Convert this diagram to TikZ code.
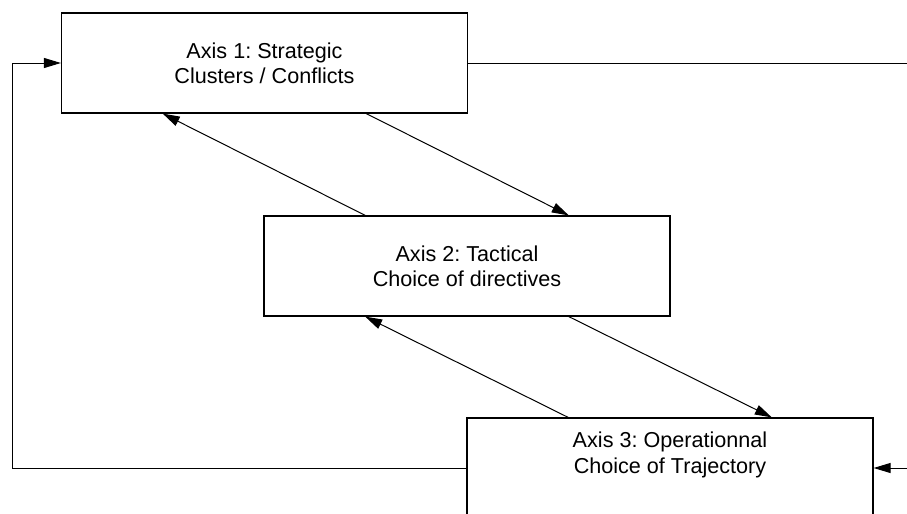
\documentclass[tikz,border=0pt]{standalone}
\usepackage{fontspec}
\setmainfont{Liberation Sans}
\usetikzlibrary{arrows.meta,calc}
\frenchspacing
\begin{document}
\begin{tikzpicture}[x=0.5pt,y=-0.5pt,
  axisbox/.style={draw=black,line width=0.6pt,minimum width=203pt,minimum height=50pt,inner sep=0pt,align=center,
    font=\fontsize{10.8pt}{12.6pt}\selectfont},
  conn/.style={draw=black,line width=0.5pt},
  arr/.style={conn,-{Triangle[length=8.5pt,width=5pt]}}]
\useasboundingbox (0,0) rectangle (907,514);
\begin{scope}
\clip (0,0) rectangle (907,514);
\node[axisbox] (b1) at (264.5,63) {Axis 1: Strategic\\Clusters / Conflicts};
\node[axisbox] (b2) at (467,266) {Axis 2: Tactical\\Choice of directives};
\node[axisbox] (b3) at (670,468) {};
\node[align=center,inner sep=0pt,font=\fontsize{10.8pt}{12.6pt}\selectfont] (t3) at (670,455) {Axis 3: Operationnal\\Choice of Trajectory};
\coordinate (rtop) at (907,63);
\coordinate (rbot) at (907,468);
\coordinate (lbot) at (12,468);
\coordinate (ltop) at (12,63);
\draw[conn] (b1.east) -- (rtop);
\draw[arr] (rbot) -- (b3.east);
\draw[arr] (b3.west) -- (lbot) -- (ltop) -- (b1.west);
\draw[arr] ($(b2.north west)!0.25!(b2.north east)$) -- ($(b1.south west)!0.25!(b1.south east)$);
\draw[arr] ($(b1.south west)!0.75!(b1.south east)$) -- ($(b2.north west)!0.75!(b2.north east)$);
\draw[arr] ($(b3.north west)!0.25!(b3.north east)$) -- ($(b2.south west)!0.25!(b2.south east)$);
\draw[arr] ($(b2.south west)!0.75!(b2.south east)$) -- ($(b3.north west)!0.75!(b3.north east)$);
\end{scope}
\end{tikzpicture}
\end{document}
